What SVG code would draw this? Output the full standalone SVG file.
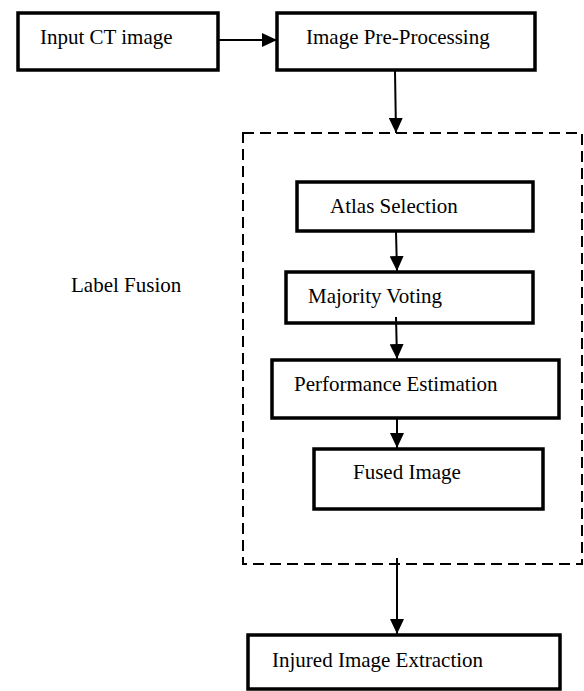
<svg xmlns="http://www.w3.org/2000/svg" width="584" height="691" viewBox="0 0 584 691">
<style>
.box{fill:#fff;stroke:#000;stroke-width:3.5}
.t{font-family:"Liberation Serif","Times New Roman",serif;font-size:21px;fill:#000}
.c{stroke:#000;stroke-width:2;fill:none}
.dash{fill:none;stroke:#000;stroke-width:2;stroke-dasharray:11 6}
</style>
<defs>
<marker id="ah" markerWidth="16" markerHeight="14" refX="15" refY="7" orient="auto" markerUnits="userSpaceOnUse">
<path d="M0,0 L15,7 L0,14 Z" fill="#000"/>
</marker>
</defs>
<rect width="584" height="691" fill="#fff"/>
<g id="labelfusion-group">
<rect class="dash" x="243" y="133" width="339" height="431"/>
<text class="t" x="71" y="292">Label Fusion</text>
</g>
<g id="input"><rect class="box" x="18" y="13" width="200" height="57"/><text class="t" x="40" y="44">Input CT image</text></g>
<g id="preproc"><rect class="box" x="277" y="13" width="258" height="57"/><text class="t" x="306" y="44">Image Pre-Processing</text></g>
<g id="atlas"><rect class="box" x="297" y="182" width="236" height="49"/><text class="t" x="330" y="213">Atlas Selection</text></g>
<g id="majority"><rect class="box" x="286" y="272" width="247" height="51"/><text class="t" x="308" y="303">Majority Voting</text></g>
<g id="perf"><rect class="box" x="272" y="360" width="287" height="58"/><text class="t" x="294" y="391">Performance Estimation</text></g>
<g id="fused"><rect class="box" x="314" y="449" width="229" height="60"/><text class="t" x="353" y="479">Fused Image</text></g>
<g id="injured"><rect class="box" x="248" y="635" width="312" height="54"/><text class="t" x="272" y="667">Injured Image Extraction</text></g>
<g id="connectors">
<line class="c" x1="219" y1="40" x2="277" y2="40" marker-end="url(#ah)"/>
<line class="c" x1="395" y1="71" x2="396" y2="133" marker-end="url(#ah)"/>
<line class="c" x1="396" y1="232" x2="397" y2="271" marker-end="url(#ah)"/>
<line class="c" x1="396" y1="317" x2="397" y2="359" marker-end="url(#ah)"/>
<line class="c" x1="397" y1="419" x2="397" y2="448" marker-end="url(#ah)"/>
<line class="c" x1="397" y1="558" x2="397" y2="634" marker-end="url(#ah)"/>
</g>
</svg>
